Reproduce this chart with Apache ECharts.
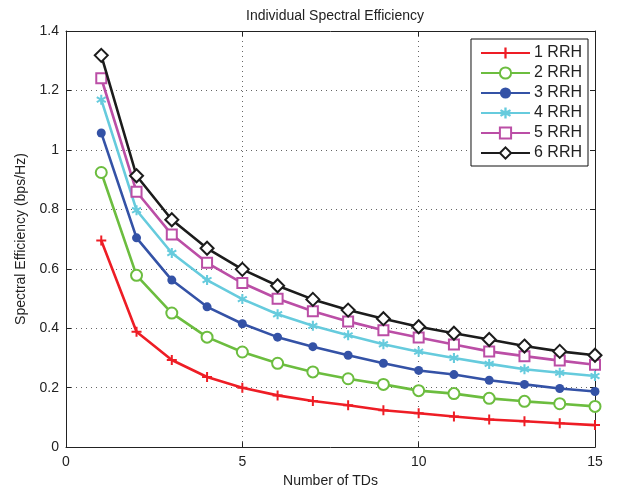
<!DOCTYPE html>
<html><head><meta charset="utf-8">
<script src="https://cdn.jsdelivr.net/npm/echarts@6/dist/echarts.min.js"></script>
<style>html,body{margin:0;padding:0;background:#fff}#c{width:621px;height:493px}</style>
</head><body><div id="c"></div>
<script>
var xValues = [1,2,3,4,5,6,7,8,9,10,11,12,13,14,15];
var seriesNames = ['1 RRH','2 RRH','3 RRH','4 RRH','5 RRH','6 RRH'];
var rrh1 = [0.695,0.388,0.293,0.236,0.200,0.174,0.155,0.141,0.124,0.114,0.103,0.093,0.087,0.080,0.074];
var rrh2 = [0.924,0.578,0.451,0.370,0.320,0.282,0.253,0.230,0.211,0.190,0.180,0.164,0.154,0.146,0.137];
var rrh3 = [1.057,0.704,0.562,0.472,0.415,0.370,0.338,0.309,0.282,0.258,0.244,0.225,0.211,0.197,0.187];
var rrh4 = [1.169,0.797,0.653,0.562,0.498,0.447,0.408,0.376,0.346,0.321,0.300,0.280,0.262,0.250,0.239];
var rrh5 = [1.241,0.859,0.715,0.620,0.552,0.499,0.457,0.423,0.393,0.369,0.345,0.322,0.306,0.291,0.277];
var rrh6 = [1.318,0.913,0.765,0.669,0.598,0.543,0.497,0.461,0.432,0.405,0.383,0.362,0.340,0.322,0.309];

var allData = [rrh1,rrh2,rrh3,rrh4,rrh5,rrh6];
var colors = ['#ee1d25','#6cbd3f','#3452a6','#66cbdd','#bb4ea6','#1c1c1c'];
var plusPath = 'path://M4,0h2v4h4v2h-4v4h-2v-4h-4v-2h4z';
var starPath = 'path://M4,0h2v3.3l2.8,-1.7l1,1.7l-2.8,1.7l2.8,1.7l-1,1.7l-2.8,-1.7v3.3h-2v-3.3l-2.8,1.7l-1,-1.7l2.8,-1.7l-2.8,-1.7l1,-1.7l2.8,1.7z';
var symbols = [plusPath,'emptyCircle','circle',starPath,'emptyRect','emptyDiamond'];
var sizes = [10,11,9,10,10,13];

function pairs(arr){ return arr.map(function(v,i){ return [xValues[i], v]; }); }

var font = 'Liberation Sans, Arial, sans-serif';
var series = allData.map(function(d,i){
  return {
    name: seriesNames[i], type:'line', data: pairs(d),
    symbol: symbols[i], symbolSize: sizes[i], showAllSymbol:true,
    lineStyle:{color:colors[i], width:2.6},
    itemStyle:{color:colors[i], borderColor:colors[i], borderWidth: (symbols[i].indexOf('empty')===0?2:0)},
    emphasis:{disabled:true}, animation:false, xAxisIndex:0, yAxisIndex:0, z: 2+i
  };
});

var chart = echarts.init(document.getElementById('c'), null, {renderer:'canvas'});
chart.setOption({
  animation:false,
  backgroundColor:'#fff',
  title:{text:'Individual Spectral Efficiency', left:330, top:4, textAlign:'center',
    textStyle:{fontFamily:font, fontSize:14, fontWeight:'normal', color:'#222'}},
  grid:{left:66, right:26, top:31, bottom:45},
  legend:{
    right:33, top:39, orient:'vertical', itemWidth:49, itemHeight:14, itemGap:4,
    padding:[6,6,5,9], borderColor:'#111', borderWidth:1, backgroundColor:'#fff',
    textStyle:{fontFamily:font, fontSize:16, color:'#222', padding:[0,0,0,-1]},
    data: seriesNames
  },
  xAxis:[{
    type:'value', min:0, max:15, interval:5, position:'bottom',
    name:'Number of TDs', nameLocation:'middle', nameGap:26,
    nameTextStyle:{fontFamily:font, fontSize:14, color:'#222'},
    axisLine:{show:true, onZero:false, lineStyle:{color:'#222', width:1}},
    axisTick:{show:true, inside:true, length:5, lineStyle:{color:'#222'}},
    axisLabel:{fontFamily:font, fontSize:14, color:'#222', margin:8},
    splitLine:{show:true, lineStyle:{color:'#666', type:[1,4], width:1}}
  },{
    type:'value', min:0, max:15, interval:5, position:'top',
    axisLine:{show:true, onZero:false, lineStyle:{color:'#222', width:1}},
    axisTick:{show:true, inside:true, length:5, lineStyle:{color:'#222'}},
    axisLabel:{show:false}, splitLine:{show:false}
  }],
  yAxis:[{
    type:'value', min:0, max:1.4, interval:0.2, position:'left',
    name:'Spectral Efficiency (bps/Hz)', nameLocation:'middle', nameGap:36,
    nameTextStyle:{fontFamily:font, fontSize:14, color:'#222'},
    axisLine:{show:true, onZero:false, lineStyle:{color:'#222', width:1}},
    axisTick:{show:true, inside:true, length:5, lineStyle:{color:'#222'}},
    axisLabel:{fontFamily:font, fontSize:14, color:'#222', margin:7,
      formatter:function(v){ return String(Math.round(v*10)/10); }},
    splitLine:{show:true, lineStyle:{color:'#666', type:[1,4], width:1}}
  },{
    type:'value', min:0, max:1.4, interval:0.2, position:'right',
    axisLine:{show:true, onZero:false, lineStyle:{color:'#222', width:1}},
    axisTick:{show:true, inside:true, length:5, lineStyle:{color:'#222'}},
    axisLabel:{show:false}, splitLine:{show:false}
  }],
  series: series
});
</script>
</body></html>
